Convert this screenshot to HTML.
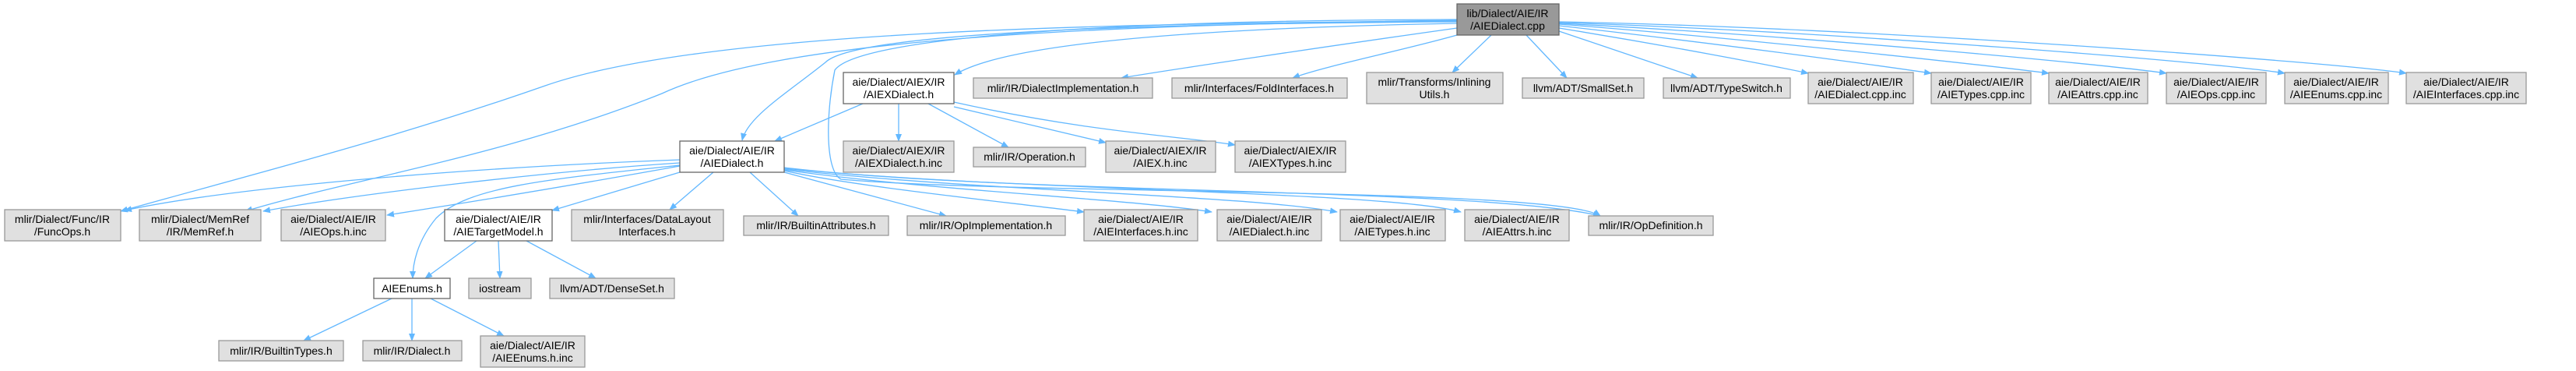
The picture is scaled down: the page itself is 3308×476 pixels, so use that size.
<!DOCTYPE html>
<html><head><meta charset="utf-8"><style>
html,body{margin:0;padding:0;background:#fff;width:3308px;height:476px;overflow:hidden}
svg text{font-family:"Liberation Sans","DejaVu Sans",sans-serif;font-size:14px;fill:#000;text-anchor:middle}
.g{fill:#e0e0e0;stroke:#999;stroke-width:1.3}
.w{fill:#fff;stroke:#666;stroke-width:1.3}
.d{fill:#999;stroke:#666;stroke-width:1.3}
path.e{fill:none;stroke:#63b8ff;stroke-width:1.3;marker-end:url(#a)}
</style></head><body>
<svg width="3308" height="476" xmlns="http://www.w3.org/2000/svg">
<defs><marker id="a" markerWidth="10" markerHeight="8" refX="9" refY="4" orient="auto" markerUnits="userSpaceOnUse"><path d="M0,0 L10,4 L0,8 Z" fill="#63b8ff"/></marker></defs>
<!-- edges from top -->
<path class="e" d="M1871,30 C1600,35 1300,50 1226,96"/>
<path class="e" d="M1871,36 C1700,60 1500,90 1440,100"/>
<path class="e" d="M1871,45 C1800,65 1700,85 1660,100"/>
<path class="e" d="M1915,45 L1865,93"/>
<path class="e" d="M1960,45 L2012,100"/>
<path class="e" d="M2002,40 L2180,100"/>
<path class="e" d="M2002,36 C2150,60 2280,85 2322,94"/>
<path class="e" d="M2002,33 C2200,55 2420,85 2480,94"/>
<path class="e" d="M2002,31 C2250,50 2560,85 2631,94"/>
<path class="e" d="M2002,30 C2300,45 2700,82 2782,94"/>
<path class="e" d="M2002,29 C2350,40 2850,80 2934,94"/>
<path class="e" d="M2002,28 C2400,35 3000,80 3090,94"/>
<path class="e" d="M1871,28 C1500,30 1100,40 1060,80 C1010,120 960,150 953,180"/>
<path class="e" d="M1871,27 C1400,30 900,40 700,110 C500,180 300,230 155,271"/>
<path class="e" d="M1871,26 C1400,32 1000,50 850,120 C650,200 450,230 315,271"/>
<path class="e" d="M1871,25 C1400,26 1100,50 1072,90 C1060,150 1060,220 1080,230 C1300,250 2000,240 2055,277"/>
<!-- AIEXDialect.h -->
<path class="e" d="M1108,133 L995,181"/>
<path class="e" d="M1154,133 L1154,181"/>
<path class="e" d="M1192,133 L1295,189"/>
<path class="e" d="M1225,137 L1420,183"/>
<path class="e" d="M1225,131 C1400,170 1520,175 1586,186"/>
<!-- AIEDialect.h -->
<path class="e" d="M873,205 C600,215 300,240 160,270"/>
<path class="e" d="M873,209 C700,220 450,250 338,271"/>
<path class="e" d="M873,213 C750,235 600,260 497,276"/>
<path class="e" d="M873,212 C700,230 600,240 560,280 C535,310 530,340 530,357"/>
<path class="e" d="M873,221 L709,270"/>
<path class="e" d="M916,221 L860,269"/>
<path class="e" d="M963,221 L1025,277"/>
<path class="e" d="M1007,221 L1215,277"/>
<path class="e" d="M1007,219 C1100,240 1300,260 1392,272"/>
<path class="e" d="M1007,218 C1200,245 1450,255 1556,272"/>
<path class="e" d="M1007,217 C1250,245 1600,250 1717,272"/>
<path class="e" d="M1007,216 C1300,245 1780,245 1876,272"/>
<path class="e" d="M1007,215 C1300,250 1900,240 2055,277"/>
<!-- AIETargetModel -->
<path class="e" d="M612,309 L546,357"/>
<path class="e" d="M640,309 L642,357"/>
<path class="e" d="M676,309 L765,357"/>
<!-- AIEEnums -->
<path class="e" d="M503,383 L390,437"/>
<path class="e" d="M529,383 L529,437"/>
<path class="e" d="M553,383 L647,431"/>
<!-- nodes -->
<rect class="d" x="1871" y="5" width="131" height="40"/><text x="1936" y="22">lib/Dialect/AIE/IR</text><text x="1936" y="38">/AIEDialect.cpp</text>
<rect class="w" x="1083" y="93" width="142" height="40"/><text x="1154" y="110">aie/Dialect/AIEX/IR</text><text x="1154" y="126">/AIEXDialect.h</text>
<rect class="g" x="1250" y="100" width="230" height="26"/><text x="1365" y="118">mlir/IR/DialectImplementation.h</text>
<rect class="g" x="1505" y="100" width="225" height="26"/><text x="1617" y="118">mlir/Interfaces/FoldInterfaces.h</text>
<rect class="g" x="1755" y="93" width="175" height="40"/><text x="1842" y="110">mlir/Transforms/Inlining</text><text x="1842" y="126">Utils.h</text>
<rect class="g" x="1955" y="100" width="156" height="26"/><text x="2033" y="118">llvm/ADT/SmallSet.h</text>
<rect class="g" x="2136" y="100" width="163" height="26"/><text x="2217" y="118">llvm/ADT/TypeSwitch.h</text>
<rect class="g" x="2322" y="93" width="135" height="40"/><text x="2389" y="110">aie/Dialect/AIE/IR</text><text x="2389" y="126">/AIEDialect.cpp.inc</text>
<rect class="g" x="2480" y="93" width="128" height="40"/><text x="2544" y="110">aie/Dialect/AIE/IR</text><text x="2544" y="126">/AIETypes.cpp.inc</text>
<rect class="g" x="2631" y="93" width="127" height="40"/><text x="2694" y="110">aie/Dialect/AIE/IR</text><text x="2694" y="126">/AIEAttrs.cpp.inc</text>
<rect class="g" x="2782" y="93" width="128" height="40"/><text x="2846" y="110">aie/Dialect/AIE/IR</text><text x="2846" y="126">/AIEOps.cpp.inc</text>
<rect class="g" x="2934" y="93" width="133" height="40"/><text x="3000" y="110">aie/Dialect/AIE/IR</text><text x="3000" y="126">/AIEEnums.cpp.inc</text>
<rect class="g" x="3090" y="93" width="154" height="40"/><text x="3167" y="110">aie/Dialect/AIE/IR</text><text x="3167" y="126">/AIEInterfaces.cpp.inc</text>
<rect class="w" x="873" y="181" width="134" height="40"/><text x="940" y="198">aie/Dialect/AIE/IR</text><text x="940" y="214">/AIEDialect.h</text>
<rect class="g" x="1083" y="181" width="142" height="40"/><text x="1154" y="198">aie/Dialect/AIEX/IR</text><text x="1154" y="214">/AIEXDialect.h.inc</text>
<rect class="g" x="1250" y="189" width="144" height="25"/><text x="1322" y="206">mlir/IR/Operation.h</text>
<rect class="g" x="1420" y="181" width="141" height="40"/><text x="1490" y="198">aie/Dialect/AIEX/IR</text><text x="1490" y="214">/AIEX.h.inc</text>
<rect class="g" x="1586" y="181" width="142" height="40"/><text x="1657" y="198">aie/Dialect/AIEX/IR</text><text x="1657" y="214">/AIEXTypes.h.inc</text>
<rect class="g" x="6" y="269" width="149" height="40"/><text x="80" y="286">mlir/Dialect/Func/IR</text><text x="80" y="302">/FuncOps.h</text>
<rect class="g" x="179" y="269" width="156" height="40"/><text x="257" y="286">mlir/Dialect/MemRef</text><text x="257" y="302">/IR/MemRef.h</text>
<rect class="g" x="361" y="269" width="134" height="40"/><text x="428" y="286">aie/Dialect/AIE/IR</text><text x="428" y="302">/AIEOps.h.inc</text>
<rect class="w" x="571" y="269" width="138" height="40"/><text x="640" y="286">aie/Dialect/AIE/IR</text><text x="640" y="302">/AIETargetModel.h</text>
<rect class="g" x="734" y="269" width="195" height="40"/><text x="831" y="286">mlir/Interfaces/DataLayout</text><text x="831" y="302">Interfaces.h</text>
<rect class="g" x="955" y="277" width="186" height="25"/><text x="1048" y="294">mlir/IR/BuiltinAttributes.h</text>
<rect class="g" x="1165" y="277" width="203" height="25"/><text x="1266" y="294">mlir/IR/OpImplementation.h</text>
<rect class="g" x="1392" y="269" width="146" height="40"/><text x="1465" y="286">aie/Dialect/AIE/IR</text><text x="1465" y="302">/AIEInterfaces.h.inc</text>
<rect class="g" x="1563" y="269" width="134" height="40"/><text x="1630" y="286">aie/Dialect/AIE/IR</text><text x="1630" y="302">/AIEDialect.h.inc</text>
<rect class="g" x="1721" y="269" width="135" height="40"/><text x="1788" y="286">aie/Dialect/AIE/IR</text><text x="1788" y="302">/AIETypes.h.inc</text>
<rect class="g" x="1881" y="269" width="134" height="40"/><text x="1948" y="286">aie/Dialect/AIE/IR</text><text x="1948" y="302">/AIEAttrs.h.inc</text>
<rect class="g" x="2040" y="277" width="160" height="25"/><text x="2120" y="294">mlir/IR/OpDefinition.h</text>
<rect class="w" x="480" y="357" width="98" height="26"/><text x="529" y="375">AIEEnums.h</text>
<rect class="g" x="602" y="357" width="80" height="26"/><text x="642" y="375">iostream</text>
<rect class="g" x="706" y="357" width="160" height="26"/><text x="786" y="375">llvm/ADT/DenseSet.h</text>
<rect class="g" x="281" y="437" width="160" height="26"/><text x="361" y="455">mlir/IR/BuiltinTypes.h</text>
<rect class="g" x="466" y="437" width="127" height="26"/><text x="529" y="455">mlir/IR/Dialect.h</text>
<rect class="g" x="617" y="431" width="134" height="40"/><text x="684" y="448">aie/Dialect/AIE/IR</text><text x="684" y="464">/AIEEnums.h.inc</text>
</svg>
</body></html>
